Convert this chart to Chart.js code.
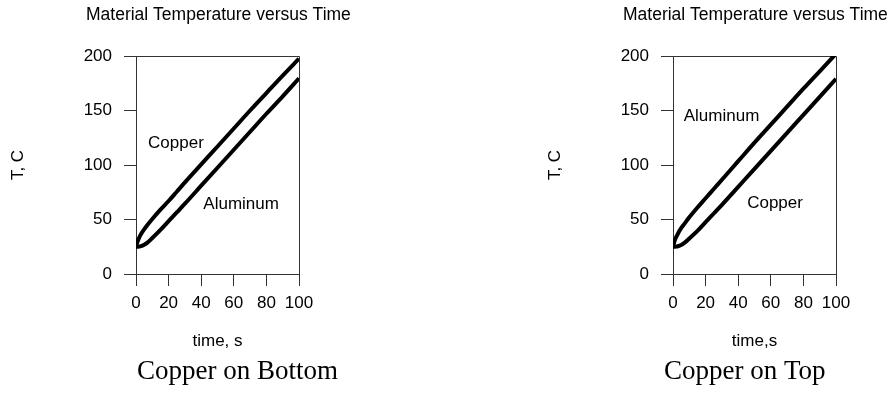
<!DOCTYPE html>
<html>
<head>
<meta charset="utf-8">
<script src="https://cdn.jsdelivr.net/npm/chart.js@4/dist/chart.umd.min.js"></script>
<style>
  html, body { margin: 0; padding: 0; background: #fff; }
  #wrap { position: relative; width: 888px; height: 396px; overflow: hidden; }
  canvas { position: absolute; top: 0; }
  #c1 { left: 0; }
  #c2 { left: 444px; }
</style>
</head>
<body>
<div id="wrap">
  <canvas id="c1" width="444" height="396"></canvas>
  <canvas id="c2" width="444" height="396"></canvas>
</div>
<script>
// ---- data ----
const time = [0, 1, 2, 3, 5, 7, 10, 15, 20, 25, 30, 40, 50, 60, 70, 80, 90, 100];

// Left chart: "Copper on Bottom"
const leftCopper   = [25, 30, 33.5, 36.5, 41, 45, 50.5, 59, 67, 75.5, 84, 100.5, 117, 133.5, 150, 166, 182, 197.5];
const leftAluminum = [25, 25, 25.2, 25.5, 26.8, 28.8, 33, 40.5, 48.5, 56.5, 64.5, 81, 97.5, 114, 130.5, 147, 163, 179.5];

// Right chart: "Copper on Top"
const rightAluminum = [25, 30.5, 34, 37, 42, 46, 52, 61, 69.5, 78, 86.5, 103.5, 120.5, 137, 153.5, 170, 186, 202];
const rightCopper   = [25, 25, 25.2, 25.5, 26.6, 28.5, 32.5, 39.5, 47.5, 55.5, 63.5, 80, 96.5, 113, 129.5, 146, 162.5, 179];

const yTicks = [0, 50, 100, 150, 200];
const xTicks = [0, 20, 40, 60, 80, 100];

const chartTitle = 'Material Temperature versus Time';
const yTitle = 'T, C';
const leftXTitle = 'time, s';
const rightXTitle = 'time,s';
const leftCaption = 'Copper on Bottom';
const rightCaption = 'Copper on Top';

// in-plot curve labels: [text, time, temperature]
const leftLabels  = [['Copper', 7.4, 120], ['Aluminum', 41.3, 64]];
const rightLabels = [['Aluminum', 6.6, 145], ['Copper', 45.5, 65]];

// ---- helpers ----
const SANS = '"Liberation Sans", Arial, Helvetica, sans-serif';
const SERIF = '"Liberation Serif", "Times New Roman", serif';
const AXIS = '#333';

function pts(ys) { return time.map((t, i) => ({ x: t, y: ys[i] })); }

function decorPlugin(titleX, caption, captionX, labels) {
  return {
    id: 'decor',
    beforeDatasetsDraw(chart) {
      const { ctx, chartArea: a } = chart;
      ctx.save();
      ctx.strokeStyle = AXIS;
      ctx.lineWidth = 1;
      ctx.beginPath();
      ctx.moveTo(Math.round(a.left) + 0.5, Math.round(a.top) + 0.5);
      ctx.lineTo(Math.round(a.right) + 0.5, Math.round(a.top) + 0.5);
      ctx.lineTo(Math.round(a.right) + 0.5, Math.round(a.bottom) + 0.5);
      ctx.stroke();
      ctx.restore();
    },
    afterDraw(chart) {
      const { ctx, scales } = chart;
      ctx.save();
      ctx.fillStyle = '#000';
      ctx.textBaseline = 'middle';
      ctx.textAlign = 'left';
      ctx.font = '17.5px ' + SANS;
      ctx.fillText(chartTitle, titleX, 15);
      ctx.font = '17px ' + SANS;
      labels.forEach(([txt, x, y]) => {
        ctx.fillText(txt, scales.x.getPixelForValue(x), scales.y.getPixelForValue(y));
      });
      ctx.font = '27px ' + SERIF;
      ctx.fillText(caption, captionX, 372);
      ctx.restore();
    }
  };
}

function makeChart(id, upper, lower, xTitle, pad, plugin) {
  return new Chart(document.getElementById(id), {
    type: 'line',
    data: {
      datasets: [
        { data: pts(upper), borderColor: '#000', borderWidth: 4, pointRadius: 0, cubicInterpolationMode: 'monotone', fill: false },
        { data: pts(lower), borderColor: '#000', borderWidth: 4, pointRadius: 0, cubicInterpolationMode: 'monotone', fill: false }
      ]
    },
    options: {
      responsive: false,
      animation: false,
      devicePixelRatio: 1,
      layout: { padding: pad },
      plugins: { legend: { display: false }, tooltip: { enabled: false }, title: { display: false } },
      scales: {
        x: {
          type: 'linear',
          min: xTicks[0], max: xTicks[xTicks.length - 1],
          afterBuildTicks: (s) => { s.ticks = xTicks.map(v => ({ value: v })); },
          afterFit: (s) => { s.height = 80; },
          grid: { drawOnChartArea: false, drawTicks: true, tickLength: 12, color: AXIS },
          border: { display: true, color: AXIS, width: 1 },
          ticks: { color: '#000', font: { family: SANS, size: 17 }, padding: 7, maxRotation: 0, autoSkip: false },
          title: { display: true, text: xTitle, color: '#000', font: { family: SANS, size: 17 }, padding: { top: 2, bottom: 2 } }
        },
        y: {
          type: 'linear',
          min: yTicks[0], max: yTicks[yTicks.length - 1],
          afterBuildTicks: (s) => { s.ticks = yTicks.map(v => ({ value: v })); },
          afterFit: (s) => { s.width = 136; },
          grid: { drawOnChartArea: false, drawTicks: true, tickLength: 12, color: AXIS },
          border: { display: true, color: AXIS, width: 1 },
          ticks: { color: '#000', font: { family: SANS, size: 17 }, padding: 12, autoSkip: false },
          title: { display: true, text: yTitle, color: '#000', font: { family: SANS, size: 17 }, padding: { top: 8, bottom: 8 } }
        }
      }
    },
    plugins: [plugin]
  });
}

makeChart('c1', leftCopper, leftAluminum, leftXTitle,
  { left: 0, right: 145, top: 56, bottom: 42 },
  decorPlugin(86, leftCaption, 137, leftLabels));

makeChart('c2', rightAluminum, rightCopper, rightXTitle,
  { left: 93, right: 52, top: 56, bottom: 42 },
  decorPlugin(179, rightCaption, 220, rightLabels));
</script>
</body>
</html>
